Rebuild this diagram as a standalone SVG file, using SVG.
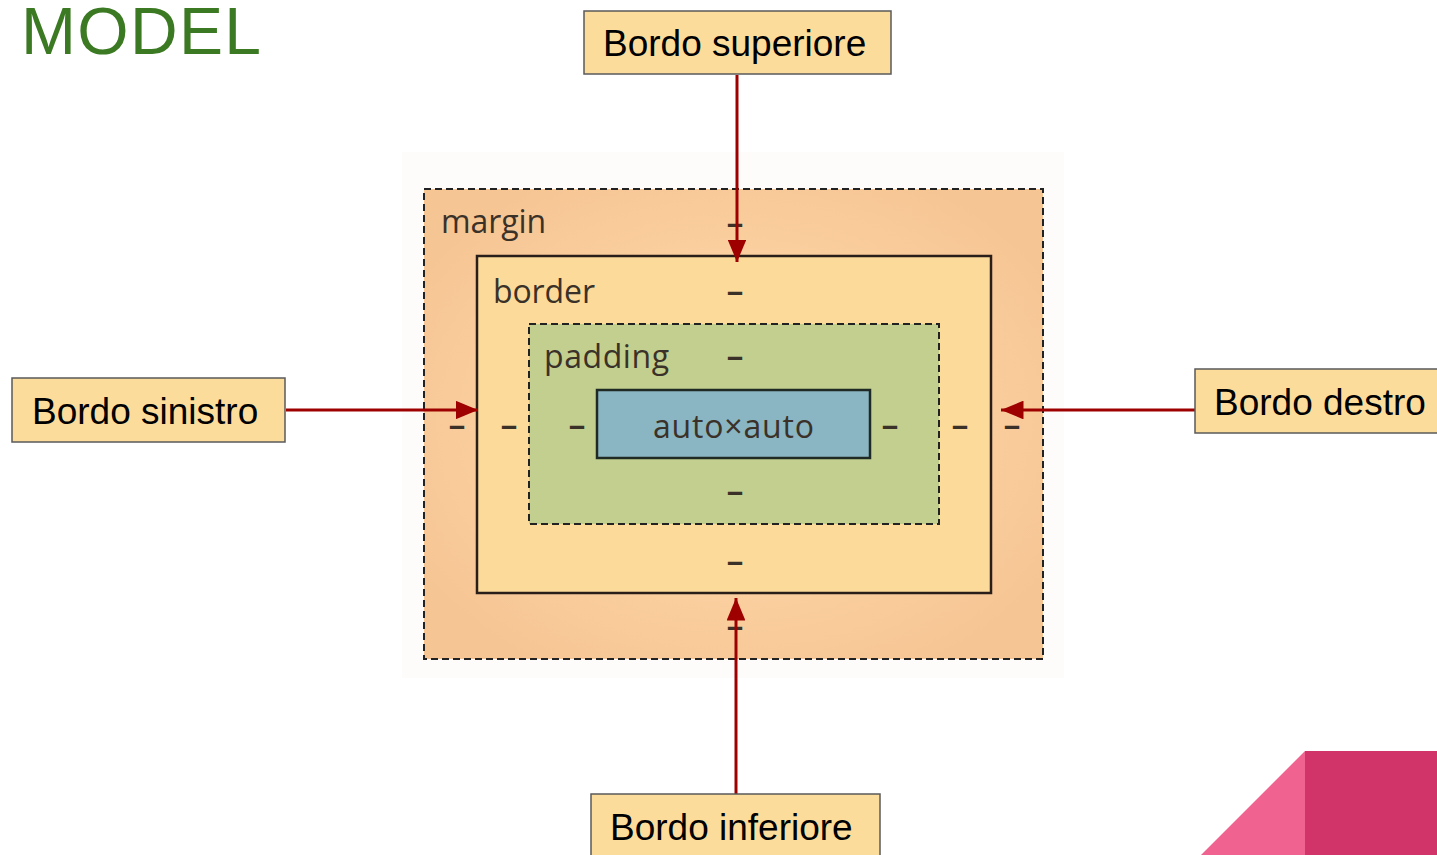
<svg xmlns="http://www.w3.org/2000/svg" width="1437" height="855" viewBox="0 0 1437 855">
<defs>
<style>
.cb{fill:#fcdc9b;stroke:#5a5a5a;stroke-width:1.5}
.ct{font-family:"Liberation Sans",Arial,sans-serif;font-size:37px;fill:#000}
.bl{font-family:"Open Sans","DejaVu Sans",sans-serif;font-size:32px;fill:#3a3129}
.ds{font-family:"Open Sans","DejaVu Sans",sans-serif;font-size:34px;font-weight:600;fill:#3a3129;text-anchor:middle}
.ar{stroke:#9e0000;stroke-width:3;fill:none}
</style>
<marker id="ah" viewBox="0 0 12 10" refX="12" refY="5" markerWidth="7.5" markerHeight="6.25" markerUnits="strokeWidth" orient="auto">
<path d="M0,0 L12,5 L0,10 z" fill="#9e0000"/>
</marker>
<radialGradient id="mg" cx="50%" cy="50%" r="60%">
<stop offset="0.6" stop-color="#fbcf9f"/>
<stop offset="1" stop-color="#f6c594"/>
</radialGradient>
</defs>
<rect width="1437" height="855" fill="#fff"/>
<text x="21" y="54" font-family="Liberation Sans,Arial,sans-serif" font-size="66" textLength="240" fill="#3b7a22">MODEL</text>
<rect x="402" y="152" width="662" height="526" fill="#fdfcfb"/>
<g id="margin">
<rect x="424" y="189" width="619" height="470" fill="url(#mg)" stroke="#222" stroke-width="2" stroke-dasharray="7,4"/>
<text class="bl" x="441" y="233" textLength="105">margin</text>
<text class="ds" x="735" y="235">–</text>
<text class="ds" x="735" y="638">–</text>
<text class="ds" x="457" y="437">–</text>
<text class="ds" x="1012" y="437">–</text>
</g>
<g id="border">
<rect x="477" y="256" width="514" height="337" fill="#fcdb9a" stroke="#2a1e1a" stroke-width="2.5"/>
<text class="bl" x="493" y="303" textLength="102">border</text>
<text class="ds" x="735" y="303">–</text>
<text class="ds" x="735" y="573">–</text>
<text class="ds" x="509" y="437">–</text>
<text class="ds" x="960" y="437">–</text>
</g>
<g id="padding">
<rect x="529" y="324" width="410" height="200" fill="#c3cf8e" stroke="#222" stroke-width="2" stroke-dasharray="7,4"/>
<text class="bl" x="544" y="368" textLength="125">padding</text>
<text class="ds" x="735" y="368">–</text>
<text class="ds" x="735" y="503">–</text>
<text class="ds" x="577" y="437">–</text>
<text class="ds" x="890" y="437">–</text>
</g>
<g id="content">
<rect x="597" y="390" width="273" height="68" fill="#8ab5c2" stroke="#1f2a24" stroke-width="2.5"/>
<text class="bl" x="653" y="438" textLength="161">auto×auto</text>
</g>
<g id="shapes">
<polygon points="1305,751 1305,855 1201,855" fill="#f06390"/>
<rect x="1305" y="751" width="132" height="104" fill="#d13468"/>
</g>
<g id="connectors">
<line class="ar" x1="737" y1="75" x2="737" y2="262" marker-end="url(#ah)"/>
<line class="ar" x1="286" y1="410" x2="478" y2="410" marker-end="url(#ah)"/>
<line class="ar" x1="1195" y1="410" x2="1001" y2="410" marker-end="url(#ah)"/>
<line class="ar" x1="736" y1="794" x2="736" y2="598" marker-end="url(#ah)"/>
</g>
<g id="top">
<rect class="cb" x="584" y="11" width="307" height="63"/>
<text class="ct" x="603" y="56">Bordo superiore</text>
</g>
<g id="left">
<rect class="cb" x="12" y="378" width="273" height="64"/>
<text class="ct" x="32" y="424">Bordo sinistro</text>
</g>
<g id="right">
<rect class="cb" x="1195" y="369" width="250" height="64"/>
<text class="ct" x="1214" y="415">Bordo destro</text>
</g>
<g id="bottom">
<rect class="cb" x="591" y="794" width="289" height="70"/>
<text class="ct" x="610" y="840">Bordo inferiore</text>
</g>
</svg>
